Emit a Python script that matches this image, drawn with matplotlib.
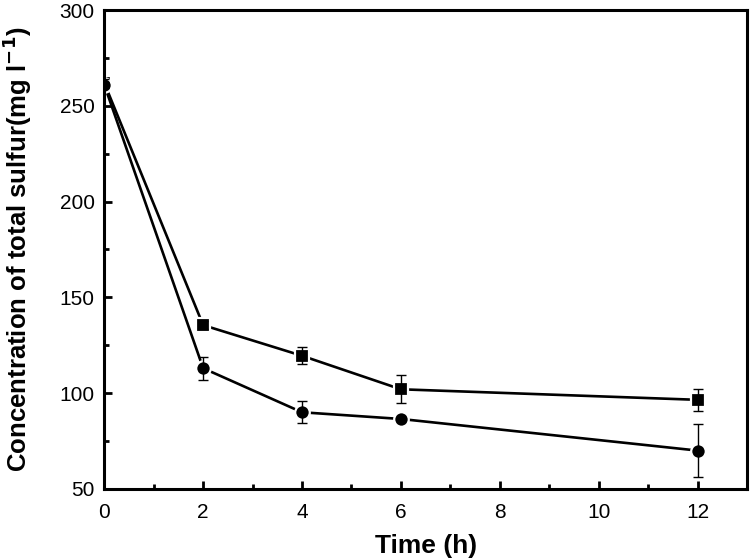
import matplotlib
matplotlib.use("Agg")
import matplotlib.pyplot as plt
from matplotlib.ticker import MultipleLocator

plt.rcParams['font.family'] = ['Liberation Sans', 'DejaVu Sans']

time_h = [0, 2, 4, 6, 12]
square_vals = [262, 135.5, 119.5, 102, 96.5]
square_err = [2, 2, 4.5, 7.3, 5.6]
circle_vals = [261, 113, 90, 86.5, 70]
circle_err = [1.5, 6, 5.7, 1, 14]

fig = plt.figure(figsize=(7.5, 5.6), dpi=100)
ax = fig.add_axes([0.139, 0.127, 0.857, 0.855])

for vals, err, mk in [(square_vals, square_err, 's'), (circle_vals, circle_err, 'o')]:
    ax.plot(time_h, vals, color='black', lw=1.9, marker=mk, markersize=10.5,
            markerfacecolor='black', markeredgecolor='white', markeredgewidth=1.6,
            zorder=2)
    ax.errorbar(time_h, vals, yerr=err, fmt='none', ecolor='black', elinewidth=1.0,
                capsize=3.5, capthick=1.0, zorder=3)

ax.set_xlim(0, 13)
ax.set_ylim(50, 300)
ax.set_xticks([0, 2, 4, 6, 8, 10, 12])
ax.xaxis.set_minor_locator(MultipleLocator(1))
ax.set_yticks([50, 100, 150, 200, 250, 300])
ax.yaxis.set_minor_locator(MultipleLocator(25))

ax.tick_params(which='both', direction='in', width=2, labelsize=15)
ax.tick_params(which='major', length=5.5)
ax.tick_params(axis='x', which='major', pad=10)
ax.tick_params(axis='y', which='major', pad=7)
ax.tick_params(which='minor', length=3.5)
ax.tick_params(axis='x', top=False)
ax.tick_params(axis='y', right=False)
for s in ax.spines.values():
    s.set_linewidth(2.2)

ax.set_xlabel('Time (h)', fontsize=19, fontweight='bold', labelpad=9)
ax.set_ylabel('Concentration of total sulfur(mg l$^{\\mathbf{-1}}$)', fontsize=18.5,
              fontweight='bold', labelpad=18)

fig.savefig('out.png', dpi=100)
